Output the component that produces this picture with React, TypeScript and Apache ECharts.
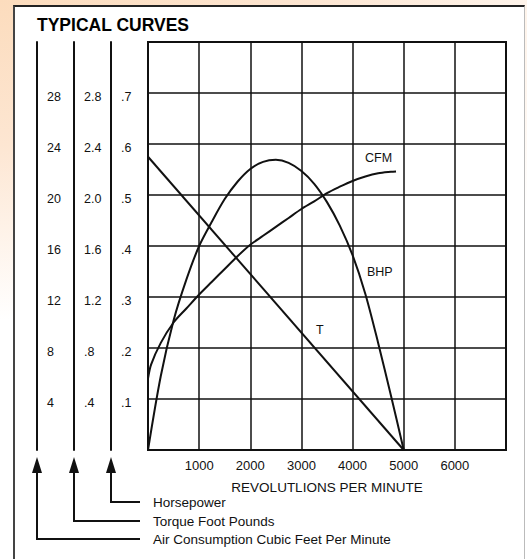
import React, { useEffect, useRef } from "react";
import * as echarts from "echarts";

// ---- data ----
const rpmTicks = [1000, 2000, 3000, 4000, 5000, 6000];
const hpTickLabels = [".1", ".2", ".3", ".4", ".5", ".6", ".7"];
const torqueTickLabels = [".4", ".8", "1.2", "1.6", "2.0", "2.4", "2.8"];
const cfmTickLabels = ["4", "8", "12", "16", "20", "24", "28"];

// Brake horsepower vs rpm
const bhpRpm = [0, 250, 500, 750, 1000, 1250, 1500, 1750, 2000, 2250, 2500, 2750, 3000, 3250, 3500, 3750, 4000, 4250, 4500, 4750, 5000];
const bhpValue = [0, 0.145, 0.254, 0.334, 0.4, 0.448, 0.492, 0.526, 0.551, 0.565, 0.569, 0.563, 0.547, 0.522, 0.486, 0.44, 0.382, 0.306, 0.21, 0.107, 0];

// Torque (ft-lb) vs rpm
const torqueRpm = [0, 5000];
const torqueValue = [2.3, 0];

// Air consumption (cfm) vs rpm
const cfmRpm = [0, 60, 250, 500, 750, 1000, 1250, 1500, 1750, 2000, 2250, 2500, 2750, 3000, 3250, 3500, 3750, 4000, 4250, 4500, 4750, 4850];
const cfmValue = [5.6, 6.7, 8.4, 10.0, 11.1, 12.2, 13.2, 14.2, 15.2, 16.1, 16.8, 17.5, 18.2, 18.9, 19.5, 20.15, 20.65, 21.1, 21.45, 21.7, 21.82, 21.85];

const FONT = "'Liberation Sans', Arial, Helvetica, sans-serif";

const zip = (xs: number[], ys: number[]) => xs.map((x, i) => [x, ys[i]]);

export default function App() {
  const ref = useRef<HTMLDivElement>(null);

  useEffect(() => {
    if (!ref.current) return;
    const chart = echarts.init(ref.current, null, { renderer: "svg" });

    const leftAxis = (offset: number, max: number, interval: number, labels: string[], split: boolean) => ({
      type: "value",
      position: "left",
      offset,
      min: 0,
      max,
      interval,
      axisLine: { show: true, onZero: false, lineStyle: { color: "#111", width: 2 } },
      axisTick: { show: false },
      splitLine: { show: split, lineStyle: { color: "#111", width: 1.5 } },
      axisLabel: {
        inside: true,
        margin: 10,
        color: "#111",
        fontSize: 12.5,
        fontFamily: FONT,
        verticalAlign: "top",
        lineHeight: 8,
        formatter: (v: number) => {
          const idx = Math.round(v / interval);
          return idx >= 1 && idx <= labels.length ? labels[idx - 1] : "";
        },
      },
    });

    const legendY = [502, 521, 539];
    const legendX = [111, 74, 37];
    const legendText = ["Horsepower", "Torque Foot Pounds", "Air Consumption Cubic Feet Per Minute"];

    const graphics: any[] = [
      {
        type: "text",
        left: 37,
        top: 16,
        style: { text: "TYPICAL CURVES", font: `bold 17.5px ${FONT}`, fill: "#000" },
      },
      { type: "text", x: 365, y: 151, style: { text: "CFM", font: `12.5px ${FONT}`, fill: "#111" } },
      { type: "text", x: 367, y: 265, style: { text: "BHP", font: `12.5px ${FONT}`, fill: "#111" } },
      { type: "text", x: 316, y: 323, style: { text: "T", font: `12.5px ${FONT}`, fill: "#111" } },
    ];
    legendX.forEach((x, i) => {
      graphics.push({
        type: "polyline",
        shape: { points: [[x, 470], [x, legendY[i]], [140, legendY[i]]] },
        style: { stroke: "#111", lineWidth: 2, fill: "none" },
      });
      graphics.push({
        type: "polygon",
        shape: { points: [[x, 457], [x - 5, 473], [x + 5, 473]] },
        style: { fill: "#111" },
      });
      graphics.push({
        type: "text",
        x: 153,
        y: legendY[i],
        style: { text: legendText[i], font: `13.5px ${FONT}`, fill: "#111", verticalAlign: "middle" },
      });
    });

    chart.setOption({
      animation: false,
      backgroundColor: "transparent",
      grid: { left: 148, top: 42, right: 21, bottom: 109, show: true, borderColor: "#111", borderWidth: 2, backgroundColor: "transparent" },
      xAxis: {
        type: "value",
        min: 0,
        max: 7000,
        interval: 1000,
        axisLine: { show: true, lineStyle: { color: "#111", width: 2 } },
        axisTick: { show: false },
        splitLine: { show: true, lineStyle: { color: "#111", width: 1.5 } },
        axisLabel: {
          margin: 9,
          color: "#111",
          fontSize: 13,
          fontFamily: FONT,
          formatter: (v: number) => (rpmTicks.includes(Math.round(v)) ? String(Math.round(v)) : ""),
        },
        name: "REVOLUTLIONS PER MINUTE",
        nameLocation: "middle",
        nameGap: 30,
        nameTextStyle: { color: "#111", fontSize: 13.5, fontFamily: FONT },
      },
      yAxis: [
        leftAxis(37, 0.8, 0.1, hpTickLabels, true),
        leftAxis(74, 3.2, 0.4, torqueTickLabels, false),
        leftAxis(111, 32, 4, cfmTickLabels, false),
      ],
      series: [
        {
          name: "BHP",
          type: "line",
          yAxisIndex: 0,
          data: zip(bhpRpm, bhpValue),
          smooth: 0.3,
          showSymbol: false,
          lineStyle: { color: "#111", width: 2 },
        },
        {
          name: "T",
          type: "line",
          yAxisIndex: 1,
          data: zip(torqueRpm, torqueValue),
          showSymbol: false,
          lineStyle: { color: "#111", width: 2 },
        },
        {
          name: "CFM",
          type: "line",
          yAxisIndex: 2,
          data: zip(cfmRpm, cfmValue),
          smooth: 0.3,
          showSymbol: false,
          lineStyle: { color: "#111", width: 2 },
        },
      ],
      graphic: graphics,
    });

    return () => chart.dispose();
  }, []);

  return (
    <div
      style={{
        position: "fixed",
        left: 0,
        top: 0,
        width: 527,
        height: 559,
        overflow: "hidden",
        background: "radial-gradient(ellipse 700px 320px at 0 0, #fcdcbd 0%, #fde6d2 45%, #ffffff 100%)",
      }}
    >
      <div
        style={{
          position: "absolute",
          left: 13,
          top: 5,
          width: 509,
          height: 570,
          background: "#fff",
          borderTop: "2px solid #222",
          borderLeft: "2px solid #444",
          borderRight: "1px solid #bbb",
        }}
      />
      <div ref={ref} style={{ position: "absolute", left: 0, top: 0, width: 527, height: 559 }} />
    </div>
  );
}
